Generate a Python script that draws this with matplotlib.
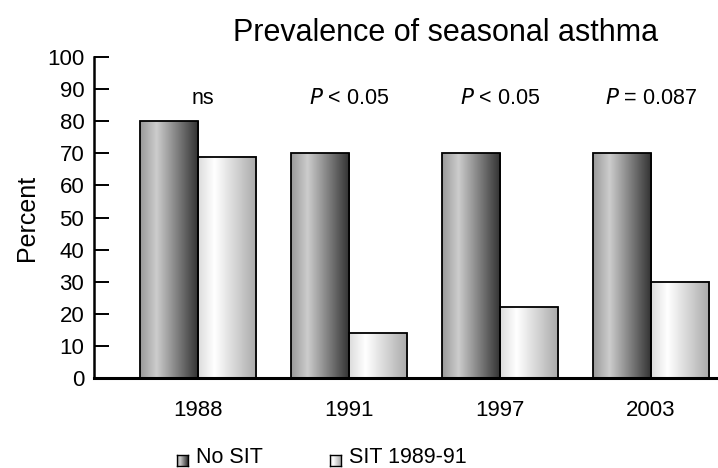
import matplotlib
matplotlib.use("Agg")
import matplotlib.pyplot as plt
import numpy as np

plt.rcParams['font.family'] = ['Liberation Sans', 'DejaVu Sans']

# Data
years = ['1988', '1991', '1997', '2003']
no_sit = [80, 70, 70, 70]
sit = [69, 14, 22, 30]
p_labels = ['ns', '$P$ < 0.05', '$P$ < 0.05', '$P$ = 0.087']
p_offsets = [0.03, 0.0, 0.0, 0.0]

# gradient stops (position, gray level)
NO_SIT_STOPS = ([0.0, 0.28, 1.0], [0.60, 0.80, 0.19])
SIT_STOPS = ([0.0, 0.28, 1.0], [0.86, 1.0, 0.66])

W, H = 718, 468


def gradient(stops, n=200):
    pos, val = stops
    return np.interp(np.linspace(0, 1, n), pos, val)[None, :]


def gradient_bar(ax, x0, width, height, stops):
    ax.imshow(gradient(stops), cmap='gray', vmin=0, vmax=1, aspect='auto',
              extent=(x0, x0 + width, 0, height), zorder=2, interpolation='bilinear')
    ax.bar(x0, height, width, align='edge', facecolor='none',
           edgecolor='black', linewidth=1.3, zorder=3)


fig = plt.figure(figsize=(W / 100, H / 100), dpi=100)
ax = fig.add_axes([94 / W, 1 - 378 / H, 1 - 94 / W, (378 - 57) / H])

x = np.arange(len(years))
bw = 0.385
for i in x:
    gradient_bar(ax, i - bw, bw, no_sit[i], NO_SIT_STOPS)
    gradient_bar(ax, i, bw, sit[i], SIT_STOPS)
    ax.text(i + p_offsets[i], 87, p_labels[i], ha='center', va='center', fontsize=15.5)

ax.set_xlim(-0.689, 3.444)
ax.set_ylim(0, 100)
ax.set_yticks(range(0, 101, 10))
ax.set_xticks(x)
ax.set_xticklabels(years)
ax.tick_params(axis='y', direction='in', length=11, width=1.4, pad=7, labelsize=16)
ax.tick_params(axis='x', length=0, pad=16, labelsize=16)
ax.spines['top'].set_visible(False)
ax.spines['right'].set_visible(False)
ax.spines['left'].set_linewidth(1.8)
ax.spines['bottom'].set_linewidth(2.2)
ax.set_ylabel('Percent', fontsize=18, labelpad=6)

fig.text(446 / W, 1 - 41 / H, 'Prevalence of seasonal asthma', ha='center',
         va='baseline', fontsize=22)

# legend
for px, stops, label in [(177, NO_SIT_STOPS, 'No SIT'), (330, SIT_STOPS, 'SIT 1989-91')]:
    lax = fig.add_axes([px / W, 1 - 466 / H, 11 / W, 11 / H])
    lax.imshow(gradient(stops, 50), cmap='gray', vmin=0, vmax=1, aspect='auto',
               interpolation='bilinear')
    lax.set_xticks([])
    lax.set_yticks([])
    for s in lax.spines.values():
        s.set_linewidth(1.0)
    fig.text((px + 19) / W, 1 - 463 / H, label, ha='left', va='baseline', fontsize=15.5)

fig.savefig('out.png', dpi=100, facecolor='white')
